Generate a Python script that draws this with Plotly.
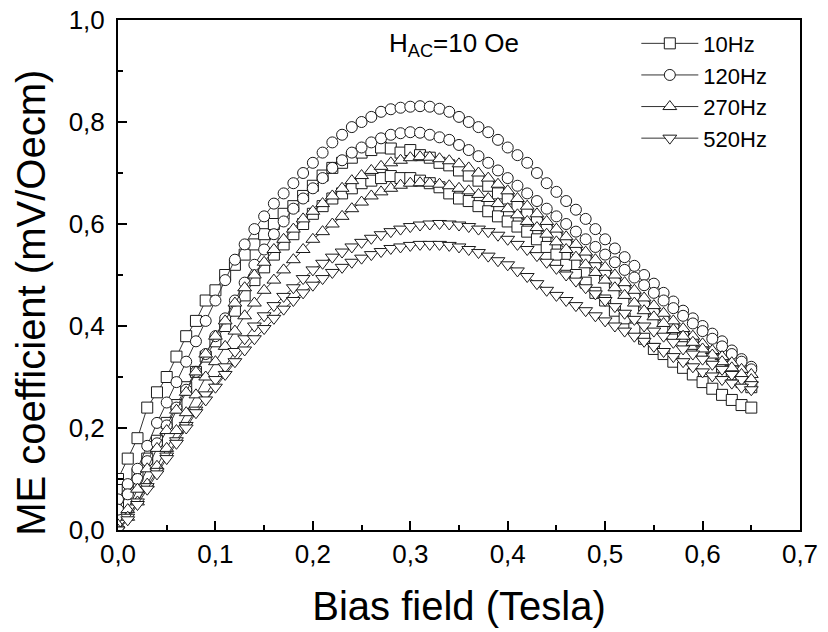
import plotly.graph_objects as go

# Bias field grid (Tesla)
FIELD_T = [0.00, 0.01, 0.02, 0.03, 0.04, 0.05, 0.06, 0.07, 0.08, 0.09,
           0.10, 0.11, 0.12, 0.13, 0.14, 0.15, 0.16, 0.17, 0.18, 0.19,
           0.20, 0.21, 0.22, 0.23, 0.24, 0.25, 0.26, 0.27, 0.28, 0.29,
           0.30, 0.31, 0.32, 0.33, 0.34, 0.35, 0.36, 0.37, 0.38, 0.39,
           0.40, 0.41, 0.42, 0.43, 0.44, 0.45, 0.46, 0.47, 0.48, 0.49,
           0.50, 0.51, 0.52, 0.53, 0.54, 0.55, 0.56, 0.57, 0.58, 0.59,
           0.60, 0.61, 0.62, 0.63, 0.64, 0.65]

# 10 Hz, two sweep branches
HZ10_A = [0.10, 0.14, 0.18, 0.24, 0.27, 0.30, 0.34, 0.38, 0.41, 0.45,
          0.47, 0.50, 0.52, 0.54, 0.56, 0.58, 0.60, 0.62, 0.635, 0.655,
          0.675, 0.695, 0.71, 0.72, 0.73, 0.74, 0.745, 0.75, 0.748, 0.74,
          0.745, 0.735, 0.73, 0.72, 0.715, 0.705, 0.695, 0.685, 0.675, 0.66,
          0.65, 0.635, 0.62, 0.605, 0.59, 0.575, 0.56, 0.545, 0.53, 0.515,
          0.50, 0.485, 0.47, 0.455, 0.44, 0.425, 0.41, 0.395, 0.38, 0.365,
          0.35, 0.335, 0.32, 0.305, 0.29, 0.28]
HZ10_B = [0.05, 0.08, 0.11, 0.14, 0.175, 0.21, 0.245, 0.28, 0.31, 0.34,
          0.37, 0.40, 0.43, 0.46, 0.49, 0.515, 0.54, 0.56, 0.58, 0.60,
          0.62, 0.635, 0.65, 0.66, 0.67, 0.68, 0.685, 0.69, 0.694, 0.69,
          0.69, 0.685, 0.68, 0.672, 0.66, 0.65, 0.645, 0.635, 0.625, 0.615,
          0.605, 0.595, 0.585, 0.57, 0.555, 0.54, 0.52, 0.50, 0.485, 0.465,
          0.45, 0.43, 0.415, 0.395, 0.375, 0.355, 0.345, 0.33, 0.318, 0.305,
          0.29, 0.277, 0.265, 0.255, 0.245, 0.24]

# 120 Hz
HZ120_A = [0.06, 0.09, 0.12, 0.165, 0.21, 0.25, 0.29, 0.33, 0.37, 0.41,
           0.45, 0.49, 0.53, 0.56, 0.59, 0.615, 0.64, 0.66, 0.68, 0.70,
           0.72, 0.74, 0.76, 0.775, 0.79, 0.80, 0.81, 0.82, 0.825, 0.828,
           0.83, 0.831, 0.83, 0.826, 0.82, 0.81, 0.80, 0.79, 0.78, 0.765,
           0.75, 0.735, 0.72, 0.70, 0.68, 0.663, 0.645, 0.628, 0.61, 0.59,
           0.57, 0.552, 0.535, 0.518, 0.50, 0.483, 0.465, 0.448, 0.43, 0.415,
           0.40, 0.385, 0.37, 0.352, 0.335, 0.32]
HZ120_B = [0.04, 0.07, 0.10, 0.135, 0.17, 0.205, 0.24, 0.275, 0.31, 0.345,
           0.38, 0.415, 0.45, 0.485, 0.52, 0.55, 0.58, 0.605, 0.63, 0.65,
           0.67, 0.69, 0.71, 0.725, 0.74, 0.75, 0.76, 0.768, 0.775, 0.778,
           0.78, 0.779, 0.775, 0.77, 0.765, 0.755, 0.745, 0.733, 0.72, 0.705,
           0.69, 0.675, 0.66, 0.645, 0.63, 0.615, 0.60, 0.585, 0.57, 0.555,
           0.54, 0.525, 0.51, 0.495, 0.48, 0.465, 0.45, 0.435, 0.42, 0.405,
           0.39, 0.375, 0.36, 0.345, 0.33, 0.315]

# 270 Hz
HZ270_A = [0.01, 0.04, 0.08, 0.12, 0.16, 0.195, 0.235, 0.27, 0.31, 0.345,
           0.38, 0.41, 0.445, 0.475, 0.50, 0.525, 0.55, 0.57, 0.59, 0.61,
           0.625, 0.64, 0.655, 0.67, 0.685, 0.695, 0.705, 0.713, 0.72, 0.725,
           0.73, 0.732, 0.731, 0.728, 0.724, 0.718, 0.71, 0.70, 0.69, 0.678,
           0.665, 0.65, 0.635, 0.62, 0.605, 0.59, 0.575, 0.56, 0.545, 0.53,
           0.515, 0.50, 0.485, 0.47, 0.455, 0.44, 0.425, 0.41, 0.395, 0.38,
           0.365, 0.352, 0.34, 0.328, 0.315, 0.305]
HZ270_B = [0.00, 0.025, 0.055, 0.09, 0.125, 0.16, 0.195, 0.23, 0.265, 0.30,
           0.33, 0.36, 0.39, 0.42, 0.445, 0.47, 0.49, 0.51, 0.53, 0.55,
           0.57, 0.585, 0.60, 0.615, 0.63, 0.643, 0.655, 0.663, 0.67, 0.676,
           0.68, 0.681, 0.68, 0.678, 0.675, 0.67, 0.665, 0.658, 0.65, 0.64,
           0.63, 0.618, 0.605, 0.593, 0.58, 0.565, 0.55, 0.535, 0.52, 0.505,
           0.49, 0.475, 0.46, 0.445, 0.43, 0.418, 0.405, 0.393, 0.38, 0.368,
           0.355, 0.343, 0.33, 0.318, 0.305, 0.295]

# 520 Hz
HZ520_A = [0.00, 0.025, 0.055, 0.085, 0.115, 0.145, 0.175, 0.205, 0.235, 0.265,
           0.295, 0.32, 0.35, 0.375, 0.40, 0.42, 0.44, 0.458, 0.475, 0.493,
           0.51, 0.523, 0.535, 0.545, 0.555, 0.564, 0.572, 0.579, 0.585, 0.59,
           0.595, 0.598, 0.60, 0.601, 0.60, 0.598, 0.595, 0.59, 0.585, 0.578,
           0.57, 0.56, 0.55, 0.538, 0.525, 0.513, 0.50, 0.488, 0.475, 0.463,
           0.45, 0.438, 0.425, 0.413, 0.40, 0.39, 0.38, 0.368, 0.355, 0.345,
           0.335, 0.325, 0.315, 0.305, 0.295, 0.285]
HZ520_B = [0.00, 0.02, 0.05, 0.08, 0.11, 0.14, 0.17, 0.20, 0.23, 0.255,
           0.28, 0.305, 0.33, 0.353, 0.375, 0.395, 0.415, 0.433, 0.45, 0.465,
           0.48, 0.493, 0.505, 0.515, 0.525, 0.533, 0.54, 0.546, 0.552, 0.555,
           0.558, 0.56, 0.56, 0.56, 0.558, 0.555, 0.55, 0.544, 0.537, 0.528,
           0.52, 0.508, 0.497, 0.483, 0.47, 0.46, 0.45, 0.44, 0.43, 0.42,
           0.41, 0.40, 0.39, 0.38, 0.37, 0.36, 0.35, 0.34, 0.33, 0.32,
           0.31, 0.302, 0.295, 0.288, 0.28, 0.275]

SERIES = [
    ("10Hz", "square", 11, HZ10_A, HZ10_B),
    ("120Hz", "circle", 11, HZ120_A, HZ120_B),
    ("270Hz", "triangle-up", 12, HZ270_A, HZ270_B),
    ("520Hz", "triangle-down", 12, HZ520_A, HZ520_B),
]

FONT = "Arial, Liberation Sans, sans-serif"

fig = go.Figure()
for name, symbol, size, branch_a, branch_b in SERIES:
    for i, ys in enumerate((branch_a, branch_b)):
        fig.add_trace(go.Scatter(
            x=FIELD_T, y=ys, name=name, legendgroup=name,
            showlegend=(i == 0),
            mode="lines+markers",
            line=dict(color="#333333", width=1),
            marker=dict(symbol=symbol, size=size, color="white",
                        line=dict(color="#1a1a1a", width=1)),
        ))

fig.update_layout(
    width=828, height=632,
    margin=dict(l=118, r=28, t=20, b=102),
    paper_bgcolor="white", plot_bgcolor="white",
    separators=", ",
    font=dict(family=FONT, color="black"),
    showlegend=True,
    legend=dict(x=0.76, y=0.995, xanchor="left", yanchor="top",
                font=dict(size=22, family=FONT), bgcolor="rgba(0,0,0,0)",
                itemsizing="trace", tracegroupgap=0, itemwidth=57),
    annotations=[
        dict(x=0.276, y=0.952, xref="x", yref="paper",
             text="H<sub>AC</sub>=10 Oe", showarrow=False,
             font=dict(size=26, family=FONT), xanchor="left", yanchor="middle"),
        dict(x=-0.128, y=0.445, xref="paper", yref="paper",
             text="ME coefficient (mV/Oecm)", showarrow=False, textangle=-90,
             font=dict(size=40, family=FONT), xanchor="center", yanchor="middle"),
    ],
)
fig.update_xaxes(
    range=[0, 0.7], dtick=0.1, tickformat=".1f", automargin=False,
    ticks="inside", ticklen=9, tickwidth=2, tickcolor="black",
    minor=dict(ticks="inside", ticklen=5, tickwidth=2, dtick=0.05, tickcolor="black"),
    showline=True, linewidth=2, linecolor="black", mirror=True,
    showgrid=False, zeroline=False,
    ticklabelstandoff=0,
    tickfont=dict(size=26, family=FONT),
    title=dict(text="Bias field (Tesla)", font=dict(size=40, family=FONT), standoff=24),
)
fig.update_yaxes(
    range=[0, 1.0], dtick=0.2, tickformat=".1f", automargin=False,
    ticks="inside", ticklen=9, tickwidth=2, tickcolor="black",
    minor=dict(ticks="inside", ticklen=5, tickwidth=2, dtick=0.1, tickcolor="black"),
    showline=True, linewidth=2, linecolor="black", mirror=True,
    showgrid=False, zeroline=False,
    ticklabelstandoff=6,
    tickfont=dict(size=26, family=FONT),
)

fig.write_html("out.html")
